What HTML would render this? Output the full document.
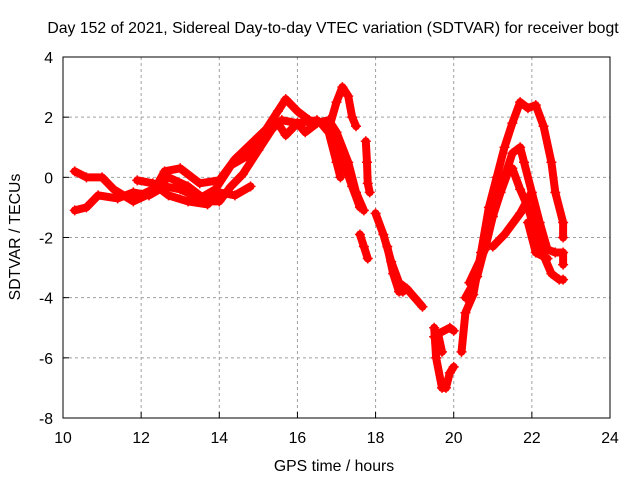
<!DOCTYPE html>
<html><head><meta charset="utf-8"><style>
body{margin:0;background:#fff;font-family:"Liberation Sans",sans-serif}
svg text{font-family:"Liberation Sans",sans-serif;font-size:15.8px;fill:#000}
</style></head><body>
<svg id="chart" width="640" height="480" viewBox="0 0 640 480">
<rect width="640" height="480" fill="#fff"/>
<text x="333" y="33" text-anchor="middle">Day 152 of 2021, Sidereal Day-to-day VTEC variation (SDTVAR) for receiver bogt</text>
<text x="334" y="471" text-anchor="middle">GPS time / hours</text>
<text transform="translate(20,237) rotate(-90)" text-anchor="middle">SDTVAR / TECUs</text>
<g id="grid"></g><g id="series"></g><g id="axes"></g>
</svg>
<script>
const xTicks=[10,12,14,16,18,20,22,24];
const yTicks=[4,2,0,-2,-4,-6,-8];
const traceA=[[10.3,0.2],[10.6,0.0],[11.0,0.0],[11.3,-0.4],[11.8,-0.8],[12.3,-0.5],[12.6,0.2],[13.0,0.3],[13.5,-0.2],[14.0,-0.1],[14.4,0.6],[14.8,1.1],[15.2,1.6],[15.5,2.2],[15.7,2.6],[16.0,2.2],[16.3,1.9],[16.6,1.8],[16.8,1.5],[17.0,0.5],[17.1,0.0]];
const traceB=[[10.3,-1.1],[10.6,-1.0],[10.9,-0.6],[11.4,-0.7],[11.8,-0.5],[12.2,-0.6],[12.6,-0.3],[13.0,-0.4],[13.5,-0.7],[13.9,-0.4],[14.3,0.4],[14.7,0.7],[15.2,1.4],[15.5,1.8],[15.7,1.4],[16.0,1.8],[16.5,1.9],[16.9,1.5],[17.1,0.8],[17.4,-0.3],[17.6,-1.0]];
const traceC=[[11.8,-0.7],[12.3,-0.4],[12.7,0.0],[13.2,-0.3],[13.7,-0.8],[14.0,-0.8],[14.3,-0.3],[14.6,0.1],[15.0,0.9],[15.4,1.7],[15.6,1.9],[16.0,1.8],[16.2,1.5],[16.5,1.8],[16.8,1.9],[17.0,1.5],[17.3,0.5],[17.5,-0.5],[17.7,-1.1]];
const traceD=[[11.9,-0.1],[12.3,-0.2],[12.7,-0.6],[13.2,-0.8],[13.7,-0.9],[14.0,-0.5],[14.4,-0.6],[14.8,-0.3]];
const traceE=[[16.8,1.6],[17.0,2.5],[17.15,3.0],[17.3,2.7],[17.4,2.0],[17.5,1.7]];
const traceF=[[17.75,1.2],[17.78,0.5],[17.8,-0.2],[17.85,-0.5]];
const traceG=[[17.6,-1.9],[17.7,-2.3],[17.8,-2.7]];
const traceH=[[18.0,-1.2],[18.2,-1.9],[18.4,-2.8],[18.6,-3.5],[18.8,-3.7],[19.0,-4.0],[19.2,-4.3]];
const traceI=[[18.3,-2.3],[18.45,-3.2],[18.6,-3.8],[18.7,-3.8]];
const traceJ=[[19.5,-5.0],[19.55,-6.0],[19.7,-7.0],[19.8,-7.0],[19.9,-6.5],[20.0,-6.3]];
const traceK=[[19.5,-5.3],[19.7,-5.8],[19.6,-5.2],[19.9,-5.0],[20.0,-5.1]];
const traceL=[[20.2,-5.8],[20.3,-4.5],[20.5,-3.9],[20.7,-2.5],[20.9,-1.0],[21.1,0.0],[21.3,1.0],[21.5,1.8],[21.7,2.5],[21.9,2.3],[22.1,2.4],[22.3,1.7],[22.5,0.5],[22.6,-0.5],[22.8,-1.5],[22.8,-2.0]];
const traceM=[[20.3,-4.0],[20.6,-3.3],[21.0,-1.3],[21.3,0.0],[21.5,0.8],[21.7,1.0],[21.8,0.5],[22.0,-0.5],[22.2,-1.5],[22.4,-2.4],[22.6,-2.5],[22.8,-2.5],[22.8,-2.9]];
const traceN=[[20.4,-3.5],[20.8,-2.4],[21.0,-1.3],[21.2,-0.5],[21.4,0.2],[21.5,0.3],[21.7,-0.4],[21.9,-1.0],[22.2,-2.3],[22.5,-3.2],[22.7,-3.4],[22.8,-3.4]];
const traceO=[[21.0,-2.3],[21.3,-1.9],[21.7,-1.2],[21.95,-0.6]];
const traceP=[[21.9,-1.5],[22.1,-2.5],[22.4,-2.7]];
const traces=[traceA,traceB,traceC,traceD,traceE,traceF,traceG,traceH,traceI,traceJ,traceK,traceL,traceM,traceN,traceO,traceP];
const X0=63,X1=610,Y0=418,Y1=57;
const xs=t=>X0+(t-10)/14*(X1-X0);
const ys=v=>Y0-(v+8)/12*(Y0-Y1);
const NS="http://www.w3.org/2000/svg";
const mk=(p,tag,a)=>{const e=document.createElementNS(NS,tag);for(const k in a)e.setAttribute(k,a[k]);p.appendChild(e);return e;};
const grid=document.getElementById('grid'),axes=document.getElementById('axes'),ser=document.getElementById('series');
xTicks.forEach(t=>{
 if(t>10&&t<24){const g=mk(grid,'line',{x1:xs(t),x2:xs(t),y1:Y1,y2:Y0,stroke:'#a0a0a0','stroke-dasharray':'3,3'});
 
 }
 const l=mk(axes,'text',{x:xs(t),y:Y0+25,'text-anchor':'middle'});l.textContent=t;
 
 
 mk(axes,'line',{x1:xs(t),x2:xs(t),y1:Y0,y2:Y0-6,stroke:'#000'});
});
yTicks.forEach(v=>{
 if(v>-8&&v<4){const g=mk(grid,'line',{x1:X0,x2:X1,y1:ys(v),y2:ys(v),stroke:'#a0a0a0','stroke-dasharray':'3,3'});
 
 }
 const l=mk(axes,'text',{x:X0-10,y:ys(v)+6,'text-anchor':'end'});l.textContent=v;
 
 
 mk(axes,'line',{x1:X0,x2:X0+6,y1:ys(v),y2:ys(v),stroke:'#000'});
});
const frame=mk(axes,'rect',{x:X0,y:Y1,width:X1-X0,height:Y0-Y1,fill:'none',stroke:'#000'});


traces.forEach((tr,i)=>{
 const pl=mk(ser,'polyline',{points:tr.map(p=>xs(p[0])+','+ys(p[1])).join(' '),fill:'none',stroke:'#ff0000','stroke-width':8,'stroke-linejoin':'round','stroke-linecap':'round'});
 
 
 tr.forEach(p=>{
  const m=mk(ser,'path',{d:`M${xs(p[0])-5},${ys(p[1])}h10M${xs(p[0])},${ys(p[1])-5}v10`,stroke:'#ff0000','stroke-width':1.5});
  
  
 });
});
</script>
</body></html>
